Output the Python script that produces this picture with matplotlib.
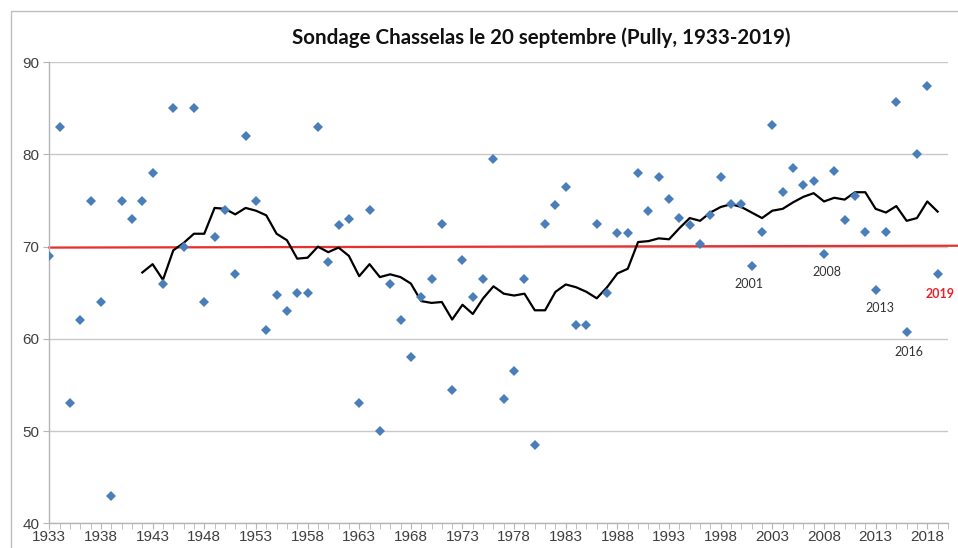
import numpy as np
import matplotlib
matplotlib.use("Agg")
import matplotlib.pyplot as plt
from matplotlib.patches import Rectangle
from matplotlib.ticker import MultipleLocator

# Sondage (degrés Oechsle) du Chasselas le 20 septembre, Pully
years = list(range(1933, 2020))
sondage = [
    69, 83, 53, 62, 75, 64, 43, 75, 73, 75,          # 1933-1942
    78, 66, 85, 70, 85, 64, 71, 74, 67, 82,          # 1943-1952
    75, 61, 64.8, 63, 65, 65, 83, 68.3, 72.3, 73,    # 1953-1962
    53, 74, 50, 66, 62, 58, 64.5, 66.5, 72.5, 54.5,  # 1963-1972
    68.5, 64.5, 66.5, 79.5, 53.5, 56.5, 66.5, 48.5, 72.5, 74.5,  # 1973-1982
    76.5, 61.5, 61.5, 72.5, 65, 71.5, 71.5, 78, 73.9, 77.5,      # 1983-1992
    75.2, 73.1, 72.3, 70.3, 73.4, 77.6, 74.6, 74.6, 67.9, 71.6,  # 1993-2002
    83.2, 75.9, 78.5, 76.7, 77.1, 69.2, 78.2, 72.9, 75.5, 71.6,  # 2003-2012
    65.3, 71.6, 85.7, 60.7, 80.0, 87.4, 67.0,                    # 2013-2019
]

# moyenne mobile sur 10 ans, de 1942 à 2019
ma_years = list(range(1942, 2020))
ma_values = [
    67.2, 68.1, 66.4, 69.6, 70.4, 71.4, 71.4, 74.2, 74.1, 73.5,
    74.2, 73.9, 73.4, 71.4, 70.7, 68.7, 68.8, 70.0, 69.4, 69.9,
    69.0, 66.8, 68.1, 66.7, 67.0, 66.7, 66.0, 64.1, 63.9, 64.0,
    62.1, 63.7, 62.7, 64.4, 65.7, 64.9, 64.7, 64.9, 63.1, 63.1,
    65.1, 65.9, 65.6, 65.1, 64.4, 65.6, 67.1, 67.6, 70.5, 70.6,
    70.9, 70.8, 72.0, 73.1, 72.8, 73.7, 74.3, 74.6, 74.3, 73.7,
    73.1, 73.9, 74.1, 74.8, 75.4, 75.8, 74.9, 75.3, 75.1, 75.9,
    75.9, 74.1, 73.7, 74.4, 72.8, 73.1, 74.9, 73.8,
]

# ligne rouge de référence
ref_years = [1933, 2021]
ref_values = [69.9, 70.1]

labelled_years = [2001, 2008, 2013, 2016, 2019]

fig = plt.figure(figsize=(9.58, 5.48), dpi=100)
ax = fig.add_axes([0.0515, 0.045, 0.938, 0.8415])

# cadre du graphique
fig.patches.append(Rectangle((11 / 958, -0.05), 1.1, 1 - 11 / 548 + 0.05,
                             transform=fig.transFigure, fill=False,
                             edgecolor="#bdbdbd", linewidth=1.0))

ax.plot(ref_years, ref_values, color="#e8312f", linewidth=1.6, clip_on=False, zorder=2)
ax.plot(ma_years, ma_values, color="black", linewidth=1.6, zorder=3)
ax.plot(years, sondage, linestyle="none", marker="D", markersize=4.8,
        color="#4a7ebb", markeredgewidth=0, zorder=4)

offsets = {2001: (-2, -13), 2008: (2, -13), 2013: (3, -13), 2016: (2, -14), 2019: (2, -14)}
for y in labelled_years:
    v = sondage[years.index(y)]
    is_last = y == 2019
    ax.annotate(str(y), (y, v), xytext=offsets[y], textcoords="offset points",
                ha="center", va="center", fontsize=9, family="Lato",
                color="#e8242a" if is_last else "#333333",
                fontweight="bold" if is_last else "normal")

ax.set_xlim(1933, 2020)
ax.set_ylim(40, 90)
ax.xaxis.set_major_locator(MultipleLocator(5))
ax.xaxis.set_minor_locator(MultipleLocator(1))
ax.yaxis.set_major_locator(MultipleLocator(10))
ax.set_xticks(range(1933, 2020, 5))

ax.grid(axis="y", color="#c8c8c8", linewidth=1.0)
ax.set_axisbelow(True)
for s in ["top", "right"]:
    ax.spines[s].set_visible(False)
for s in ["left", "bottom"]:
    ax.spines[s].set_color("#b5b5b5")
    ax.spines[s].set_linewidth(1.0)

ax.tick_params(axis="both", which="both", colors="#b5b5b5", labelcolor="#404040",
               labelsize=11, direction="out")
ax.tick_params(axis="x", which="major", length=4, pad=1)
ax.tick_params(axis="x", which="minor", length=4)
ax.tick_params(axis="y", length=4, pad=3)
for lab in ax.get_xticklabels() + ax.get_yticklabels():
    lab.set_family("Liberation Sans")

fig.text(0.565, 0.931, "Sondage Chasselas le 20 septembre (Pully, 1933-2019)",
         ha="center", va="center", fontsize=14.8, fontweight="bold",
         family="Lato", color="#111111")

fig.savefig("out.png", dpi=100)
